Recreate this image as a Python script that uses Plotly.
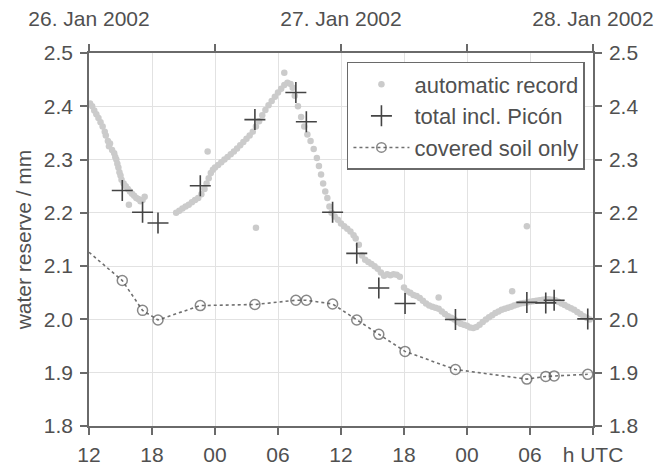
import plotly.graph_objects as go

# hours since 26 Jan 2002 12 UTC
auto_h = [0.1, 0.3, 0.5, 0.7, 0.9, 1.1, 1.3, 1.5, 1.6, 1.8, 1.9, 2.0, 2.2, 2.4, 2.5, 2.6, 2.7, 2.8, 2.9, 3.0,
          3.1, 3.3, 3.5, 3.7, 3.8, 3.9, 4.1, 4.3, 4.5, 4.7, 4.9, 5.1, 5.3,
          8.3, 8.6, 8.9, 9.2, 9.5, 9.8, 10.1, 10.4, 10.7, 11.0, 11.2, 11.3, 11.4, 11.6, 11.8, 12.0, 12.3, 12.6,
          12.9, 13.2, 13.5, 13.8, 14.1, 14.4, 14.7, 15.0, 15.3, 15.6, 15.9, 15.9, 16.2, 16.5, 16.8, 17.1, 17.4,
          17.7, 18.0, 18.3, 18.6, 18.6, 18.9, 19.2, 19.4,
          19.6, 19.9, 20.2, 20.5, 20.8, 21.1, 21.4, 21.7, 21.9, 22.1, 22.3, 22.5, 22.7, 22.9, 23.1, 23.4, 23.7,
          24.0, 24.3, 24.6, 24.9, 25.2, 25.4, 25.7, 26.0, 26.3, 26.6, 26.9, 27.2, 27.5, 27.8, 28.1, 28.4, 28.7,
          29.0, 29.3, 29.6, 30.0, 30.3, 30.6, 30.9, 31.2, 31.5, 31.8, 32.1, 32.4, 32.7, 33.0, 33.3, 33.3, 33.6,
          33.9, 34.2, 34.5, 34.8, 35.1, 35.4, 35.7, 36.0, 36.3, 36.6, 36.9, 37.2, 37.5, 37.8, 38.1, 38.4, 38.7,
          39.0, 39.3, 39.6, 39.9, 40.2, 40.3, 40.5, 40.8, 41.1, 41.4, 41.7, 41.7, 42.0, 42.3, 42.6, 42.9, 43.2,
          43.5, 43.8, 44.1, 44.4, 44.7, 45.0, 45.3, 45.6, 45.9, 46.2, 46.5, 46.8, 47.1, 47.4, 47.7]
auto_wr = [2.405, 2.400, 2.392, 2.385, 2.378, 2.370, 2.362, 2.352, 2.345, 2.335, 2.325, 2.330, 2.318, 2.312,
           2.305, 2.300, 2.292, 2.285, 2.276, 2.270, 2.262, 2.255, 2.250, 2.245, 2.215, 2.240, 2.236, 2.232,
           2.228, 2.226, 2.222, 2.224, 2.230,
           2.200, 2.204, 2.208, 2.212, 2.215, 2.220, 2.224, 2.228, 2.235, 2.245, 2.255, 2.315, 2.265, 2.275,
           2.281, 2.285, 2.290, 2.295, 2.300, 2.305, 2.310, 2.315, 2.321, 2.327, 2.333, 2.339, 2.345, 2.352,
           2.362, 2.172, 2.372, 2.383, 2.393, 2.402, 2.410, 2.418, 2.426, 2.433, 2.440, 2.463, 2.444, 2.442,
           2.435,
           2.420, 2.400, 2.380, 2.362, 2.347, 2.335, 2.320, 2.303, 2.288, 2.272, 2.255, 2.240, 2.228, 2.212,
           2.200, 2.193, 2.187, 2.180, 2.175, 2.170, 2.165, 2.158, 2.152, 2.140, 2.120, 2.112, 2.108, 2.104,
           2.100, 2.095, 2.088, 2.082, 2.085, 2.083, 2.085, 2.084, 2.080, 2.060, 2.053, 2.050, 2.046, 2.044,
           2.040, 2.035, 2.030, 2.026, 2.024, 2.022, 2.020, 2.041, 2.015, 2.010, 2.006, 2.003, 2.000, 1.995,
           1.992, 1.990, 1.988, 1.985, 1.984, 1.986, 1.990, 1.995, 2.000, 2.004, 2.008, 2.012, 2.015, 2.018,
           2.020, 2.022, 2.024, 2.053, 2.026, 2.028, 2.030, 2.031, 2.032, 2.175, 2.033, 2.034, 2.035, 2.036,
           2.037, 2.038, 2.038, 2.037, 2.036, 2.033, 2.030, 2.027, 2.024, 2.021, 2.018, 2.014, 2.010, 2.006,
           2.003, 2.000]

meas_h = [3.17, 5.1, 6.57, 10.6, 15.8, 19.7, 20.7, 23.2, 25.5, 27.6, 30.1, 34.9, 41.7, 43.5, 44.3, 47.5]
total_wr = [2.242, 2.201, 2.181, 2.251, 2.375, 2.426, 2.371, 2.201, 2.124, 2.059, 2.030, 2.000,
            2.032, 2.031, 2.036, 2.001]
soil_start_h = 0.0
soil_start_wr = 2.126
soil_wr = [2.073, 2.017, 1.999, 2.026, 2.028, 2.036, 2.036, 2.029, 1.999, 1.972, 1.940, 1.906,
           1.888, 1.893, 1.894, 1.897]

bottom_tickvals = [0, 6, 12, 18, 24, 30, 36, 42, 48]
bottom_ticktext = ["12", "18", "00", "06", "12", "18", "00", "06", "h UTC"]
top_tickvals = [0, 12, 24, 36, 48]
top_ticktext = ["26. Jan 2002", "", "27. Jan 2002", "", "28. Jan 2002"]
y_ticks = [1.8, 1.9, 2.0, 2.1, 2.2, 2.3, 2.4, 2.5]

FONT = "Liberation Sans, Arial, sans-serif"
TXT = "#505050"
AX = "#6a6a6a"
GRID = "#e2e2e2"
FS = 21

soil_h = [soil_start_h] + meas_h
soil_y = [soil_start_wr] + soil_wr
soil_sizes = [0] + [10] * len(meas_h)

fig = go.Figure()
fig.add_trace(go.Scatter(x=auto_h, y=auto_wr, mode="markers", name="automatic record",
                         marker=dict(size=6.5, color="#cbcbcb")))
fig.add_trace(go.Scatter(x=meas_h, y=total_wr, mode="markers", name="total incl. Picón",
                         marker=dict(symbol="cross-thin", size=15, line=dict(width=1.6, color="#444444"),
                                     color="#444444")))
fig.add_trace(go.Scatter(x=soil_h, y=soil_y, mode="lines+markers", name="covered soil only",
                         line=dict(color="#707070", width=1.6, dash="dot"),
                         marker=dict(symbol="circle-open", size=soil_sizes, color="#555555",
                                     line=dict(width=1.5, color="#555555"))))
# invisible helper so the top and right axes are drawn
fig.add_trace(go.Scatter(x=meas_h, y=total_wr, xaxis="x2", yaxis="y2", mode="markers",
                         marker=dict(opacity=0), showlegend=False, hoverinfo="skip"))

common_axis = dict(showline=True, linecolor=AX, linewidth=1.5, ticks="outside", tickcolor=AX,
                   tickwidth=1.5, ticklen=7, tickfont=dict(family=FONT, size=FS, color=TXT),
                   zeroline=False, automargin=False)

fig.update_layout(
    width=657, height=469,
    margin=dict(l=89, r=64, t=53, b=43, autoexpand=False),
    paper_bgcolor="white", plot_bgcolor="white",
    font=dict(family=FONT, size=FS, color=TXT),
    xaxis=dict(range=[0, 48], tickvals=bottom_tickvals, ticktext=bottom_ticktext,
               showgrid=True, gridcolor=GRID, gridwidth=1, ticklabelstandoff=2, **common_axis),
    xaxis2=dict(range=[0, 48], overlaying="x", side="top", anchor="y", tickvals=top_tickvals,
                ticktext=top_ticktext, showgrid=False, ticklabelstandoff=10, **common_axis),
    yaxis=dict(range=[1.8, 2.5], tickvals=y_ticks, tickformat=".1f", showgrid=True, gridcolor=GRID,
               gridwidth=1, ticklabelstandoff=3,
               title=dict(text="water reserve / mm", standoff=6, font=dict(family=FONT, size=FS, color=TXT)),
               **common_axis),
    yaxis2=dict(range=[1.8, 2.5], overlaying="y", side="right", anchor="x", tickvals=y_ticks,
                tickformat=".1f", showgrid=False, ticklabelstandoff=3, **common_axis),
    legend=dict(x=0.984, y=0.976, xanchor="right", yanchor="top", bgcolor="white",
                bordercolor=AX, borderwidth=1.5, font=dict(family=FONT, size=22, color=TXT),
                itemwidth=56, tracegroupgap=0),
    showlegend=True,
)

fig.write_html("out.html")
